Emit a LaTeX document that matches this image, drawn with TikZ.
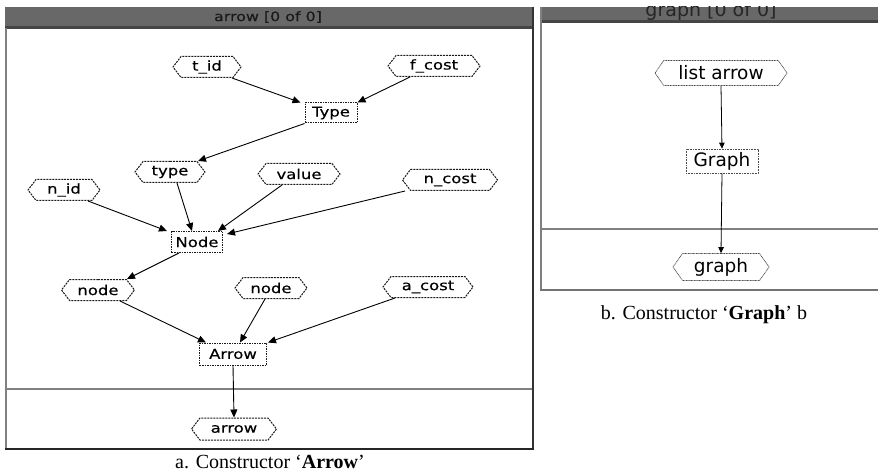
\documentclass[tikz,border=0pt]{standalone}
\usepackage{fontspec}
\setmainfont{Liberation Serif}
\newfontfamily\gfont[FakeStretch=1.22,FakeBold=0.4]{DejaVu Sans}
\newfontfamily\vfont{DejaVu Sans}
\usetikzlibrary{shapes.symbols,arrows.meta}
\definecolor{barfill}{HTML}{686868}
\definecolor{bardark}{HTML}{454545}
\tikzset{
  hexbox/.style={shape=signal, signal to=east and west, signal pointer angle=105,
    draw=black!90, dash pattern=on 2pt off 1pt, line width=1pt,
    inner xsep=1pt, inner ysep=0pt, minimum height=21pt,
    font=\gfont\fontsize{13.5}{15}\selectfont},
  recbox/.style={rectangle, draw=black!90, dash pattern=on 1.5pt off 1pt, line width=1pt,
    inner sep=0pt, minimum height=20pt,
    font=\gfont\fontsize{13.5}{15}\selectfont},
  hexboxb/.style={shape=signal, signal to=east and west, signal pointer angle=110,
    draw=black!70, dash pattern=on 1pt off 0.6pt, line width=0.7pt,
    inner xsep=1pt, inner ysep=0pt, minimum height=25pt,
    font=\vfont\fontsize{18.5}{20}\selectfont},
  recboxb/.style={rectangle, draw=black!70, dash pattern=on 1pt off 0.6pt, line width=0.7pt,
    inner sep=0pt, minimum height=24pt,
    font=\vfont\fontsize{18.5}{20}\selectfont},
  conn/.style={line width=0.9pt, -{Triangle[length=8pt,width=7pt]}},
  connb/.style={line width=0.8pt, -{Triangle[length=6pt,width=5.5pt]}},
  ttl/.style={font=\gfont\fontsize{13}{15}\selectfont, text=black!90},
  captext/.style={font=\fontsize{20}{22}\selectfont, anchor=base}
}
\begin{document}
\begin{tikzpicture}[x=1pt,y=-1pt]
\useasboundingbox (0,0) rectangle (878,473);
\fill[white] (0,0) rectangle (878,473);

% ---------- left panel frame ----------
\fill[barfill] (5,7) rectangle (533,28);
\fill[bardark] (5,26) rectangle (533,29);
\node[ttl] (ttlA) at (268,17) {arrow [0 of 0]};
\draw[gray, line width=1.5pt] (5.75,28) -- (5.75,449);
\draw[black!80, line width=2pt] (532.5,7) -- (532.5,449.5);
\draw[black!85, line width=2pt] (5,449) -- (533.5,449);
\draw[gray, line width=1.2pt] (5,389) -- (532,389);

% ---------- right panel frame ----------
\fill[barfill] (540,7) rectangle (878,22);
\fill[bardark] (540,20) rectangle (878,23);
\begin{scope}
  \clip (540,7) rectangle (878,22);
  \node[font=\vfont\fontsize{19}{21}\selectfont, text=black!85, anchor=base] (ttlB) at (711,17) {graph [0 of 0]};
\end{scope}
\draw[gray, line width=1.5pt] (540.75,7) -- (540.75,290);
\draw[black!55, line width=1.5pt] (540,290) -- (878,290);
\draw[gray, line width=1.2pt] (540,229) -- (878,229);

% ---------- left panel nodes ----------
\node[hexbox, minimum width=68pt] (tid) at (207,67) {t\_id};
\node[hexbox, minimum width=92pt] (fcost) at (434,66) {f\_cost};
\node[recbox, minimum width=52pt] (Type) at (331,113) {Type};
\node[hexbox, minimum width=70pt] (type) at (170,172) {type};
\node[hexbox, minimum width=82pt] (value) at (299,174) {value};
\node[hexbox, minimum width=72pt] (nid) at (64,190) {n\_id};
\node[hexbox, minimum width=95pt] (ncost) at (450,180) {n\_cost};
\node[recbox, minimum width=51pt, minimum height=21pt] (Node) at (197,242) {Node};
\node[hexbox, minimum width=73pt] (nodeL) at (98,290) {node};
\node[hexbox, minimum width=72pt] (nodeM) at (271,288) {node};
\node[hexbox, minimum width=90pt] (acost) at (428,287) {a\_cost};
\node[recbox, minimum width=67pt, minimum height=22pt] (Arrow) at (233,354) {Arrow};
\node[hexbox, minimum width=85pt, minimum height=22pt] (arrow) at (234,429) {arrow};

% ---------- left panel connectors ----------
\draw[conn] ([xshift=25pt]tid.south) -- ([xshift=-4pt]Type.north west);
\draw[conn] ([xshift=-24pt]fcost.south) -- (Type.north east);
\draw[conn] (Type.south west) -- ([xshift=28pt]type.north);
\draw[conn] ([xshift=24pt]nid.south) -- ([xshift=-4pt]Node.north west);
\draw[conn] ([xshift=7pt]type.south) -- ([xshift=-5pt]Node.north);
\draw[conn] ([xshift=-17pt]value.south) -- ([xshift=-5pt]Node.north east);
\draw[conn] ([xshift=-45pt]ncost.south) -- ([xshift=4pt,yshift=-3pt]Node.north east);
\draw[conn] ([xshift=8pt]Node.south west) -- ([xshift=29pt]nodeL.north);
\draw[conn] ([xshift=22pt]nodeL.south) -- ([xshift=7pt]Arrow.north west);
\draw[conn] ([xshift=-6pt]nodeM.south) -- ([xshift=7pt]Arrow.north);
\draw[conn] ([xshift=-33pt]acost.south) -- ([xshift=1pt]Arrow.north east);
\draw[conn] (Arrow.south) -- (arrow.north);

% ---------- right panel nodes ----------
\node[hexboxb, minimum width=132pt] (list) at (721,73) {list arrow};
\node[recboxb, minimum width=72pt] (Graph) at (722,161) {Graph};
\node[hexboxb, minimum width=96pt, minimum height=27pt] (graph) at (721,267) {graph};
\draw[connb] (list.south) -- (Graph.north);
\draw[connb] (Graph.south) -- (graph.north);

% ---------- captions ----------
\node[captext] (capA) at (270,468) {a. Constructor `\textbf{Arrow}'};
\node[captext] (capB) at (704,319) {b. Constructor `\textbf{Graph}' b};
\end{tikzpicture}
\end{document}
